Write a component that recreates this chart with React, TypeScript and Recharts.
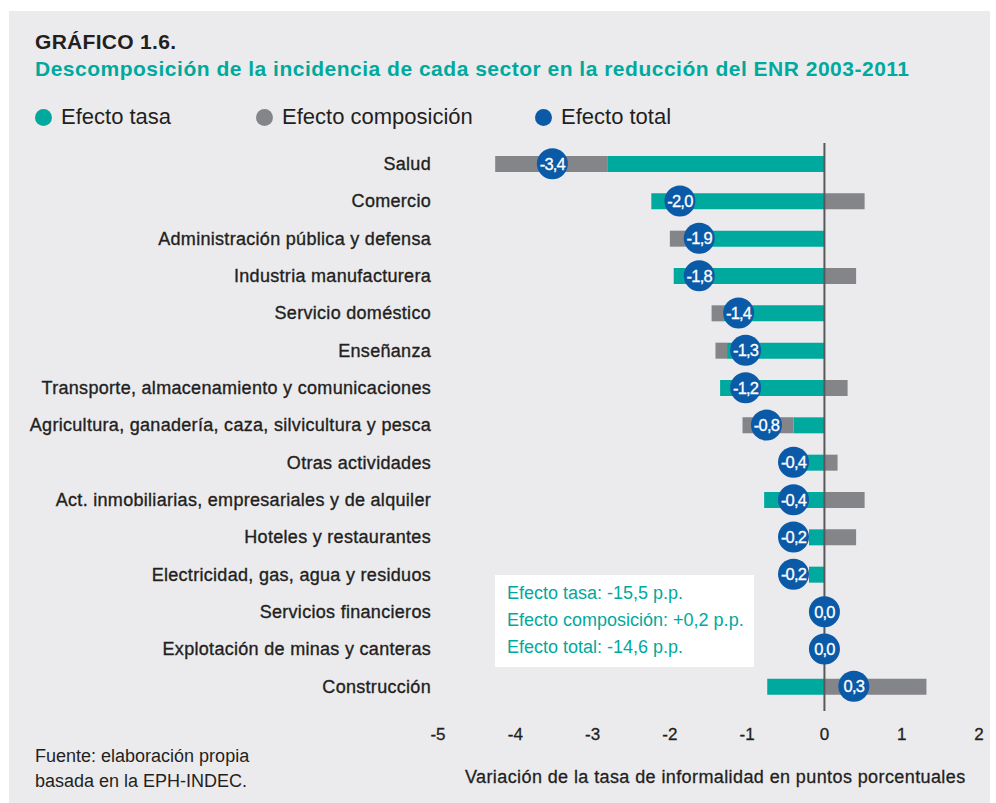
import React from 'react';
import { ComposedChart, Bar, Line, XAxis, YAxis, ReferenceLine } from 'recharts';

const categories = [
  'Salud',
  'Comercio',
  'Administración pública y defensa',
  'Industria manufacturera',
  'Servicio doméstico',
  'Enseñanza',
  'Transporte, almacenamiento y comunicaciones',
  'Agricultura, ganadería, caza, silvicultura y pesca',
  'Otras actividades',
  'Act. inmobiliarias, empresariales y de alquiler',
  'Hoteles y restaurantes',
  'Electricidad, gas, agua y residuos',
  'Servicios financieros',
  'Explotación de minas y canteras',
  'Construcción',
];

const efectoTasa = [-2.81, -2.24, -1.78, -1.95, -1.3, -1.26, -1.35, -0.4, -0.25, -0.78, -0.2, -0.2, 0, 0, -0.74];
const efectoComposicion = [-1.45, 0.52, -0.22, 0.41, -0.16, -0.15, 0.3, -0.66, 0.17, 0.52, 0.41, 0, 0, 0, 1.32];
const efectoTotal = ['-3,4', '-2,0', '-1,9', '-1,8', '-1,4', '-1,3', '-1,2', '-0,8', '-0,4', '-0,4', '-0,2', '-0,2', '0,0', '0,0', '0,3'];
// horizontal position at which each total circle is drawn in the picture
const efectoTotalPos = [-3.52, -1.87, -1.62, -1.62, -1.11, -1.02, -1.02, -0.75, -0.4, -0.4, -0.4, -0.4, 0, 0, 0.38];

const xTicks = [-5, -4, -3, -2, -1, 0, 1, 2];

const legendItems = [
  { label: 'Efecto tasa', color: '#00a99d' },
  { label: 'Efecto composición', color: '#848589' },
  { label: 'Efecto total', color: '#0b5aa8' },
];

const summary = ['Efecto tasa: -15,5 p.p.', 'Efecto composición: +0,2 p.p.', 'Efecto total: -14,6 p.p.'];

const data = categories.map((c, i) => ({
  name: c,
  tasa: efectoTasa[i],
  comp: efectoComposicion[i],
  totalPos: efectoTotalPos[i],
  totalLabel: efectoTotal[i],
}));

const TEAL = '#00a99d';
const GRAY = '#848589';
const BLUE = '#0b5aa8';
const DARK = '#231f20';
const FONT = '"Liberation Sans", Arial, Helvetica, sans-serif';

const TotalDot = (props: any) => {
  const { cx, cy, index, payload } = props;
  if (cx == null || cy == null) return null;
  return (
    <g key={`dot-${index}`}>
      <circle cx={cx} cy={cy} r={15.5} fill={BLUE} />
      <text
        x={cx}
        y={cy}
        dy="0.36em"
        textAnchor="middle"
        fill="#ffffff"
        stroke="#ffffff"
        strokeWidth={0.3}
        fontSize={16.5}
        fontFamily={FONT}
        letterSpacing={-0.8}
      >
        {payload.totalLabel}
      </text>
    </g>
  );
};

const ZeroLine = (props: any) => {
  const { x1, x2, y1, y2 } = props;
  const top = Math.min(y1, y2) - 2;
  const bottom = Math.max(y1, y2) + 6;
  return <line x1={x1} x2={x2} y1={top} y2={bottom} stroke="#58595b" strokeWidth={2} />;
};

export default function App() {
  return (
    <div style={{ position: 'absolute', left: 0, top: 0, width: 996, height: 803, background: '#ffffff', fontFamily: FONT }}>
      <div style={{ position: 'absolute', left: 9, top: 11, width: 981, height: 792, background: '#ebebee' }} />
      <div style={{ position: 'absolute', left: 35, top: 30, fontSize: 21, letterSpacing: 0.3, fontWeight: 700, color: DARK, whiteSpace: 'nowrap' }}>
        GRÁFICO 1.6.
      </div>
      <div style={{ position: 'absolute', left: 35, top: 57, fontSize: 21, letterSpacing: 0.5, fontWeight: 700, color: TEAL, whiteSpace: 'nowrap' }}>
        Descomposición de la incidencia de cada sector en la reducción del ENR 2003-2011
      </div>
      {legendItems.map((item, i) => {
        const lefts = [35, 256, 535];
        return (
          <div key={item.label} style={{ position: 'absolute', left: lefts[i], top: 104, height: 26, display: 'flex', alignItems: 'center', whiteSpace: 'nowrap' }}>
            <span style={{ display: 'inline-block', width: 17, height: 17, borderRadius: '50%', background: item.color, marginRight: 9 }} />
            <span style={{ fontSize: 22, color: DARK }}>{item.label}</span>
          </div>
        );
      })}
      <div style={{ position: 'absolute', left: 0, top: 0 }}>
        <ComposedChart
          width={996}
          height={803}
          data={data}
          layout="vertical"
          stackOffset="sign"
          margin={{ top: 145, right: 17, bottom: 68, left: 8 }}
          barCategoryGap={0}
        >
          <XAxis
            type="number"
            domain={[-5, 2]}
            ticks={xTicks}
            axisLine={false}
            tickLine={false}
            tickSize={0}
            tickMargin={23}
            height={30}
            tick={{ fill: DARK, fontSize: 17, fontFamily: FONT, stroke: DARK, strokeWidth: 0.3 }}
            interval={0}
          />
          <YAxis
            type="category"
            dataKey="name"
            width={430}
            axisLine={false}
            tickLine={false}
            tickSize={0}
            tickMargin={7}
            interval={0}
            tick={{ fill: DARK, fontSize: 18, fontFamily: FONT, letterSpacing: 0.3, stroke: DARK, strokeWidth: 0.35 }}
          />
          <Bar dataKey="tasa" stackId="a" fill={TEAL} barSize={16} isAnimationActive={false} />
          <Bar dataKey="comp" stackId="a" fill={GRAY} barSize={16} isAnimationActive={false} />
          <ReferenceLine x={0} shape={ZeroLine} />
          <Line
            dataKey="totalPos"
            stroke="none"
            dot={TotalDot}
            activeDot={false}
            isAnimationActive={false}
          />
        </ComposedChart>
      </div>
      <div style={{ position: 'absolute', left: 495, top: 575, width: 259, height: 92, background: '#ffffff' }}>
        {summary.map((s, i) => (
          <div key={s} style={{ position: 'absolute', left: 12, top: 7 + i * 27, fontSize: 18, color: TEAL, whiteSpace: 'nowrap', lineHeight: '22px' }}>
            {s}
          </div>
        ))}
      </div>
      <div style={{ position: 'absolute', left: 35, top: 744, fontSize: 18, color: DARK, lineHeight: '25px' }}>
        Fuente: elaboración propia
        <br />
        basada en la EPH-INDEC.
      </div>
      <div style={{ position: 'absolute', left: 465, top: 767, fontSize: 18, letterSpacing: 0.4, WebkitTextStroke: '0.3px #231f20', color: DARK, whiteSpace: 'nowrap' }}>
        Variación de la tasa de informalidad en puntos porcentuales
      </div>
    </div>
  );
}
